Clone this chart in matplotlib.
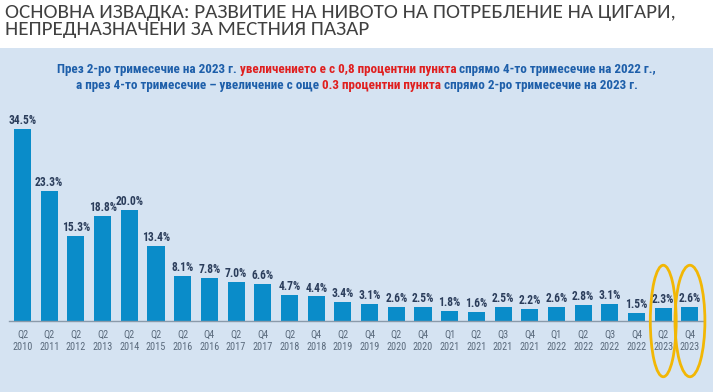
import matplotlib.pyplot as plt
from matplotlib.patches import Ellipse, Rectangle
from matplotlib import font_manager

quarters = ["Q2", "Q2", "Q2", "Q2", "Q2", "Q2", "Q2", "Q4", "Q2", "Q4", "Q2", "Q4", "Q2", "Q4",
            "Q2", "Q4", "Q1", "Q2", "Q3", "Q4", "Q1", "Q2", "Q3", "Q4", "Q2", "Q4"]
years = ["2010", "2011", "2012", "2013", "2014", "2015", "2016", "2016", "2017", "2017", "2018", "2018",
         "2019", "2019", "2020", "2020", "2021", "2021", "2021", "2021", "2022", "2022", "2022", "2022",
         "2023", "2023"]
values = [34.5, 23.3, 15.3, 18.8, 20.0, 13.4, 8.1, 7.8, 7.0, 6.6, 4.7, 4.4, 3.4, 3.1,
          2.6, 2.5, 1.8, 1.6, 2.5, 2.2, 2.6, 2.8, 3.1, 1.5, 2.3, 2.6]
labels = [q + "\n" + y for q, y in zip(quarters, years)]
highlight = ["Q2\n2023", "Q4\n2023"]

names = {f.name for f in font_manager.fontManager.ttflist}


def pick(*cands):
    for c in cands:
        if c in names:
            return [c, "DejaVu Sans"]
    return ["DejaVu Sans"]


narrow = pick("Roboto Condensed", "PT Sans Narrow", "Open Sans Condensed", "Liberation Sans Narrow",
              "Fira Sans Condensed", "Liberation Sans")
title_font = pick("Carlito", "PT Sans", "Open Sans")

W, H = 713, 392
fig = plt.figure(figsize=(W / 100, H / 100), dpi=100)
fig.patch.set_facecolor("white")
renderer = fig.canvas.get_renderer()


def fit(text, target, weight="normal", family=None, probe=10):
    t = fig.text(0, 0, text, fontsize=probe, fontweight=weight, family=family)
    w = t.get_window_extent(renderer).width
    t.remove()
    return probe * target / w


# light blue panel
fig.patches.append(Rectangle((0, 0), 1, (H - 48) / H, transform=fig.transFigure,
                             facecolor="#D5E3F2", edgecolor="none", zorder=-5))

n = len(values)
left, right = 9.2, 703.3
base, top = 321, 98
ax = fig.add_axes([left / W, (H - base) / H, (right - left) / W, (base - top) / H])
ax.set_facecolor("none")
ax.set_zorder(2)
x = list(range(n))
ax.bar(x, values, width=0.64, color="#0A8CC9", zorder=2)
ax.set_xlim(-0.5, n - 0.5)
ax.set_ylim(0, 40)

val_fs = fit("34.5%", 28.5, "bold", narrow)
for i, v in enumerate(values):
    ax.text(i, v + 0.35, f"{v:.1f}%", ha="center", va="bottom", fontsize=val_fs,
            fontweight="bold", color="#2B3D5B", family=narrow)

tick_fs = fit("2010", 20, "normal", narrow)
ax.set_xticks(x)
ax.set_xticklabels(labels, fontsize=tick_fs, color="#5B6B7D", family=narrow, linespacing=1.3)
ax.tick_params(axis="x", length=0, pad=6)
ax.set_yticks([])
for s in ["top", "right", "left"]:
    ax.spines[s].set_visible(False)
ax.spines["bottom"].set_color("#8A9AAA")
ax.spines["bottom"].set_linewidth(1.0)

for lab, w in zip(highlight, [0.97, 1.12]):
    i = labels.index(lab)
    ax.add_patch(Ellipse((i, 0), w, 20, fill=False, edgecolor="#F2B705", linewidth=2.0,
                         clip_on=False, zorder=3))

# title, sized to the reference width
title_txt = ("ОСНОВНА ИЗВАДКА: РАЗВИТИЕ НА НИВОТО НА ПОТРЕБЛЕНИЕ НА ЦИГАРИ,\n"
             "НЕПРЕДНАЗНАЧЕНИ ЗА МЕСТНИЯ ПАЗАР")
title_fs = fit(title_txt.split("\n")[0], 672, "normal", title_font)
fig.text(5 / W, 1 - 4 / H, title_txt, ha="left", va="top", fontsize=title_fs,
         color="#404040", family=title_font, linespacing=1.0)

# subtitle with mixed colours
blue, red = "#1E5FAA", "#E01F1F"
lines = [
    [("През 2-ро тримесечие на 2023 г. ", blue), ("увеличението е с 0,8 процентни пункта", red),
     (" спрямо 4-то тримесечие на 2022 г.,", blue)],
    [("а през 4-то тримесечие – увеличение с още ", blue), ("0.3 процентни пункта", red),
     (" спрямо 2-ро тримесечие на 2023 г.", blue)],
]
sub_fs = fit("".join(s for s, _ in lines[0]), 602, "bold", narrow)
for k, segs in enumerate(lines):
    y = 1 - (70 + 16 * k) / H
    texts = [fig.text(0, y, s, color=c, fontsize=sub_fs, fontweight="bold", family=narrow,
                      va="center", ha="left") for s, c in segs]
    widths = [t.get_window_extent(renderer).width for t in texts]
    xpos = (W - sum(widths)) / 2
    for t, w in zip(texts, widths):
        t.set_x(xpos / W)
        xpos += w

fig.savefig("out.png", dpi=100)
